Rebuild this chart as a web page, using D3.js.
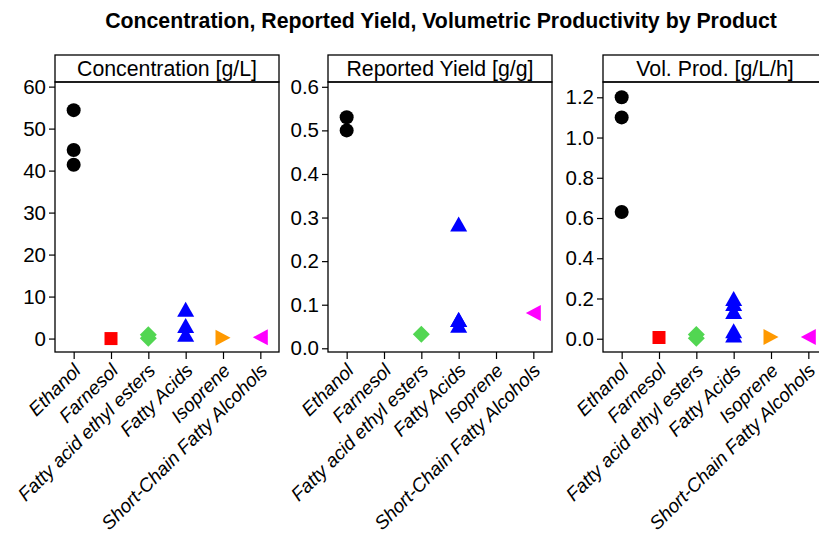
<!DOCTYPE html>
<html>
<head>
<meta charset="utf-8">
<script src="https://cdn.jsdelivr.net/npm/d3@7"></script>
<style>
  html, body { margin: 0; padding: 0; background: #fff; }
  text { font-family: "Liberation Sans", Arial, Helvetica, sans-serif; }
</style>
</head>
<body>
<svg id="chart" width="819" height="534"></svg>
<script>
// Products shown on every panel's x axis
const products = ["Ethanol", "Farnesol", "Fatty acid ethyl esters", "Fatty Acids", "Isoprene", "Short-Chain Fatty Alcohols"];

// Measured values per product (same order as products)
const concentration = [[54.4, 44.9, 41.4], [0.0], [0.9, 0.1], [7.0, 3.1, 1.0], [0.2], [0.3]];
const reportedYield = [[0.53, 0.50], [], [0.032], [0.285, 0.066, 0.066, 0.053], [], [0.081]];
const volProd = [[1.20, 1.10, 0.63], [0.006], [0.021, 0.002], [0.20, 0.175, 0.135, 0.04, 0.018], [0.008], [0.008]];

// Panel strip titles and y tick labels
const panelTitles = ["Concentration [g/L]", "Reported Yield [g/g]", "Vol. Prod. [g/L/h]"];
const concTicks = [0, 10, 20, 30, 40, 50, 60];
const yieldTicks = [0.0, 0.1, 0.2, 0.3, 0.4, 0.5, 0.6];
const prodTicks = [0.0, 0.2, 0.4, 0.6, 0.8, 1.0, 1.2];

const productColors = ["#000000", "#ff0000", "#52d652", "#0000ff", "#ff9900", "#ff00ff"];

const svg = d3.select("#chart");

svg.append("text")
  .attr("x", 441).attr("y", 28)
  .attr("text-anchor", "middle")
  .attr("font-size", 21.3).attr("font-weight", "bold")
  .text("Concentration, Reported Yield, Volumetric Productivity by Product");

// Marker shapes, one per product
function markerPath(i) {
  const p = d3.path();
  if (i === 0) { p.arc(0, 0, 7, 0, 2 * Math.PI); }
  else if (i === 1) { p.rect(-6.5, -6.5, 13, 13); }
  else if (i === 2) { p.moveTo(0, -8.5); p.lineTo(8.5, 0); p.lineTo(0, 8.5); p.lineTo(-8.5, 0); p.closePath(); }
  else if (i === 3) { p.moveTo(0, -7.5); p.lineTo(8.5, 7.5); p.lineTo(-8.5, 7.5); p.closePath(); }
  else if (i === 4) { p.moveTo(7.5, 0); p.lineTo(-7.5, -8); p.lineTo(-7.5, 8); p.closePath(); }
  else { p.moveTo(-7.5, 0); p.lineTo(7.5, -8); p.lineTo(7.5, 8); p.closePath(); }
  return p.toString();
}

const panels = [
  { title: panelTitles[0], values: concentration, ticks: concTicks, fmt: d3.format("d"), domain: [-3.2, 61.1], left: 55 },
  { title: panelTitles[1], values: reportedYield, ticks: yieldTicks, fmt: d3.format(".1f"), domain: [-0.0085, 0.611], left: 328 },
  { title: panelTitles[2], values: volProd, ticks: prodTicks, fmt: d3.format(".1f"), domain: [-0.066, 1.276], left: 603 }
];

const panelW = 224, stripTop = 55, plotTop = 82, plotBottom = 352;

panels.forEach(pn => {
  const g = svg.append("g");
  const x = d3.scalePoint().domain(products).range([pn.left, pn.left + panelW]).padding(0.5);
  const y = d3.scaleLinear().domain(pn.domain).range([plotBottom, plotTop]);

  // strip
  g.append("rect").attr("x", pn.left).attr("y", stripTop).attr("width", panelW).attr("height", plotTop - stripTop)
    .attr("fill", "#fff").attr("stroke", "#000").attr("stroke-width", 1.3);
  g.append("text").attr("x", pn.left + panelW / 2).attr("y", stripTop + 21)
    .attr("text-anchor", "middle").attr("font-size", 21.3).text(pn.title);

  // panel box
  g.append("rect").attr("x", pn.left).attr("y", plotTop).attr("width", panelW).attr("height", plotBottom - plotTop)
    .attr("fill", "none").attr("stroke", "#000").attr("stroke-width", 1.3);

  // y axis
  const yAxis = d3.axisLeft(y).tickValues(pn.ticks).tickFormat(pn.fmt).tickSize(6).tickPadding(3);
  const ya = g.append("g").attr("transform", `translate(${pn.left},0)`).call(yAxis);
  ya.select(".domain").remove();
  ya.selectAll("line").attr("stroke", "#000").attr("stroke-width", 1.2);
  ya.selectAll("text").attr("font-size", 20.5).attr("fill", "#000")
    .attr("font-family", "Liberation Sans, Arial, sans-serif");

  // x axis
  const xAxis = d3.axisBottom(x).tickSize(7).tickFormat("");
  const xa = g.append("g").attr("transform", `translate(0,${plotBottom})`).call(xAxis);
  xa.select(".domain").remove();
  xa.selectAll("line").attr("stroke", "#000").attr("stroke-width", 1.2);

  g.selectAll("text.xlab").data(products).join("text")
    .attr("class", "xlab")
    .attr("transform", d => `translate(${x(d) - 1.5},${plotBottom + 10}) rotate(-45)`)
    .attr("text-anchor", "end")
    .attr("dy", "0.72em")
    .attr("font-size", 19).attr("font-style", "italic")
    .text(d => d);

  // points
  const pts = [];
  pn.values.forEach((vals, i) => vals.forEach(v => pts.push({ i, v })));
  g.selectAll("path.pt").data(pts).join("path")
    .attr("class", "pt")
    .attr("d", d => markerPath(d.i))
    .attr("transform", d => `translate(${x(products[d.i])},${y(d.v)})`)
    .attr("fill", d => productColors[d.i]);
});
</script>
</body>
</html>
